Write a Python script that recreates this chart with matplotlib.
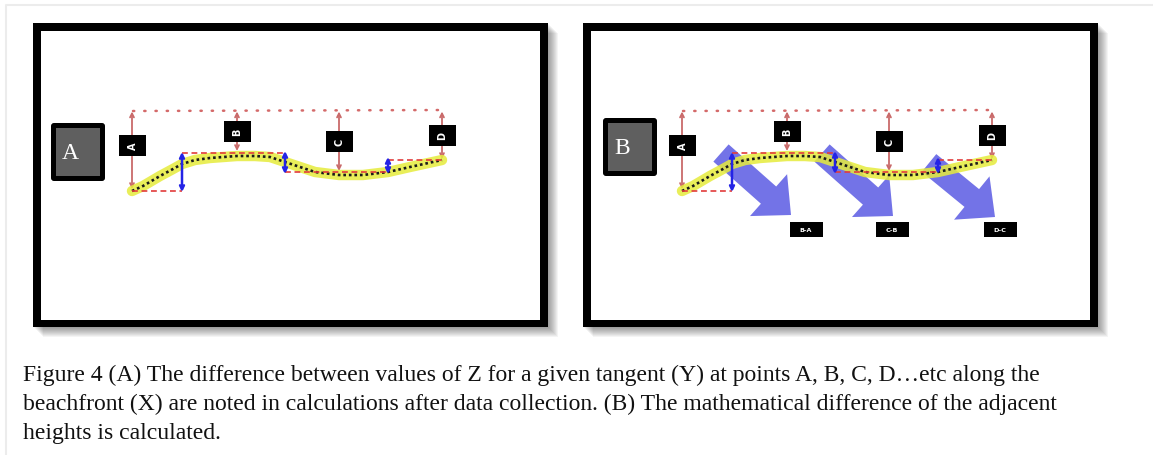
import matplotlib
matplotlib.use('Agg')
import matplotlib.pyplot as plt
from matplotlib.patches import Rectangle, FancyBboxPatch, FancyArrow

# survey points along the beachfront (pixel space of panel A)
point_names = ['A', 'B', 'C', 'D']
point_x = [132, 237, 339, 442]
point_z = [190, 152, 172, 160]
name_box_y = [146.5, 132.5, 142.5, 136.5]

# beach profile traced through the points
curve_x = [132, 143, 160, 173, 182, 195, 210, 237, 255, 270, 285, 300,
           315, 339, 363, 388, 410, 442]
curve_y = [192, 187, 177, 170, 165, 161, 159, 157, 157, 158, 163, 168,
           173, 176, 176, 173, 168, 161]

# step levels (red dashed) and the height differences (blue)
step_x = [132, 182, 285, 388, 442]
step_y = [192, 154, 173, 161]
diff_x = [182, 285, 388]
diff_top = [153, 152, 158]
diff_bottom = [193, 175, 175]

# panel B: difference arrows and their labels
diff_names = ['B-A', 'C-B', 'D-C']
big_tail = [(721, 154), (822, 154), (929, 164)]
big_tip = [(791, 216), (893, 217), (995, 218)]
diff_label_x = [806, 892, 1000]

panel_shift = [0, 550]
panel_tags = ['A', 'B']
tag_x = [51, 603]
tag_y = [124, 119]

caption = [
    'Figure 4 (A) The difference between values of Z for a given tangent (Y) '
    'at points A, B, C, D\u2026etc along the',
    'beachfront (X) are noted in calculations after data collection. (B) The '
    'mathematical difference of the adjacent',
    'heights is calculated.',
]

fig = plt.figure(figsize=(11.53, 4.56), dpi=100)
ax = fig.add_axes([0, 0, 1, 1])
ax.set_xlim(0, 1153)
ax.set_ylim(456, 0)
ax.axis('off')

# light page border
ax.plot([6, 6, 1153], [456, 6, 6], color='#ececec', lw=1.5, zorder=0)

serif = ['Liberation Serif', 'DejaVu Serif']

for k, dx in enumerate(panel_shift):
    x0, y0, w, h = 33 + dx, 24, 515, 304
    # soft shadow
    for d in range(1, 11):
        ax.add_patch(Rectangle((x0 + d, y0 + d), w, h, color='black',
                               alpha=0.045, lw=0, zorder=1))
    ax.add_patch(Rectangle((x0, y0), w, h, color='black', lw=0, zorder=1.1))
    ax.add_patch(Rectangle((x0 + 8, y0 + 8), w - 16, h - 15, color='white',
                           lw=0, zorder=1.2))

    # panel tag
    tx0, ty = tag_x[k], tag_y[k]
    ax.add_patch(FancyBboxPatch((tx0 + 3, ty + 3), 48, 52,
                                boxstyle='round,pad=3', color='black',
                                lw=0, zorder=3))
    ax.add_patch(Rectangle((tx0 + 5, ty + 5), 44, 48, color='#5f5f5f',
                           lw=0, zorder=3.1))
    ax.text(tx0 + 19, ty + 30, panel_tags[k], color='white', fontsize=17,
            family=serif, ha='center', va='center', zorder=3.2)

    # reference (dotted) line
    ax.plot([133 + dx, 447 + dx], [112, 111], color='#d46a6a', lw=1.8,
            linestyle=(0, (0.5, 4.0)), dash_capstyle='round', zorder=4)

    # red height arrows with the point names
    for name, px, pz, by in zip(point_names, point_x, point_z, name_box_y):
        ax.annotate('', xy=(px + dx, 112.5), xytext=(px + dx, pz),
                    arrowprops=dict(arrowstyle='<->', color='#c96a6a',
                                    lw=1.3, mutation_scale=7,
                                    shrinkA=0, shrinkB=0), zorder=4)
        ax.add_patch(Rectangle((px + dx - 13.5, by - 10.5), 27, 21,
                               color='black', lw=0, zorder=5))
        ax.text(px + dx + 0.5, by, name, color='white', fontsize=7,
                fontweight='bold', rotation=90, ha='center', va='center',
                zorder=5.1)

    if k == 1:
        for (tx, ty2), (hx, hy) in zip(big_tail, big_tip):
            ax.add_patch(FancyArrow(tx, ty2, hx - tx, hy - ty2, width=23,
                                    head_width=56, head_length=30,
                                    length_includes_head=True,
                                    color='#6b6be6', alpha=0.95, lw=0,
                                    zorder=3.5))
        for name, lx in zip(diff_names, diff_label_x):
            ax.add_patch(Rectangle((lx - 16.5, 223), 33, 15, color='black',
                                   lw=0, zorder=5))
            ax.text(lx, 230.5, name, color='white', fontsize=4.6,
                    fontweight='bold', ha='center', va='center', zorder=5.1)

    # beach profile
    cx = [x + dx for x in curve_x]
    ax.plot(cx, curve_y, color='#e6ec3c', lw=7.5, alpha=0.85,
            solid_capstyle='round', solid_joinstyle='round', zorder=6)
    ax.plot(cx, curve_y, color='#1a1a1a', lw=1.9,
            linestyle=(0, (1, 1.1)), zorder=6.2)

    # dashed step levels
    for i, sy in enumerate(step_y):
        ax.plot([step_x[i] + dx, step_x[i + 1] + dx], [sy, sy],
                color='#e23c3c', lw=1.2, linestyle=(0, (3.5, 2.2)),
                zorder=6.5)

    # blue differences
    for bx, b0, b1 in zip(diff_x, diff_top, diff_bottom):
        ax.annotate('', xy=(bx + dx, b0), xytext=(bx + dx, b1),
                    arrowprops=dict(arrowstyle='<->', color='#2323e6',
                                    lw=1.8, mutation_scale=7,
                                    shrinkA=0, shrinkB=0), zorder=7)

for i, line in enumerate(caption):
    ax.text(23, 381 + 29 * i, line, fontsize=17, family=serif,
            color='#111111', ha='left', va='baseline')

fig.savefig('out.png', dpi=100)
